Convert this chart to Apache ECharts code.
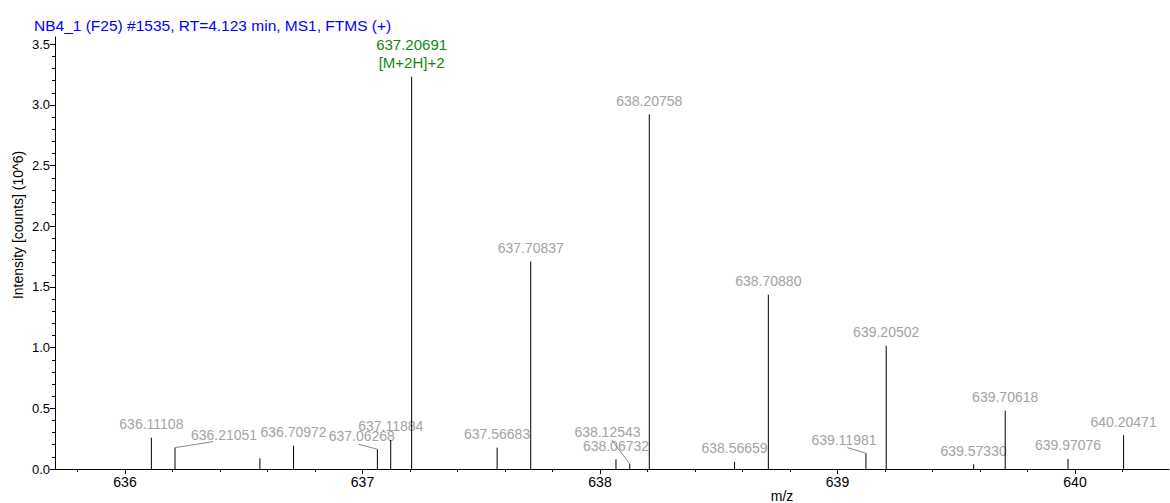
<!DOCTYPE html>
<html><head><meta charset="utf-8">
<script src="https://cdn.jsdelivr.net/npm/echarts@6/dist/echarts.min.js"></script>
<style>html,body{margin:0;padding:0;background:#fff}#c{width:1170px;height:503px}</style>
</head><body><div id="c"></div>
<script>
// ---- data ----
const titleText = 'NB4_1 (F25) #1535, RT=4.123 min, MS1, FTMS (+)';
const xAxisName = 'm/z';
const yAxisName = 'Intensity [counts] (10^6)';
const mzValues = [636.11108, 636.21051, 636.568, 636.70972, 637.06268, 637.11884, 637.20691, 637.56683, 637.70837, 638.06732,
                  638.12543, 638.20758, 638.56659, 638.70880, 639.11981, 639.20502, 639.57330, 639.70618, 639.97076, 640.20471];
const intensities = [0.258, 0.176, 0.088, 0.192, 0.163, 0.239, 3.233, 0.176, 1.711, 0.080,
                     0.041, 2.922, 0.058, 1.436, 0.130, 1.015, 0.039, 0.481, 0.083, 0.278];
const peakLabels = ['636.11108', '636.21051', '', '636.70972', '637.06268', '637.11884', '637.20691', '637.56683', '637.70837', '638.06732',
                    '638.12543', '638.20758', '638.56659', '638.70880', '639.11981', '639.20502', '639.57330', '639.70618', '639.97076', '640.20471'];
const annotations = ['', '', '', '', '', '', '[M+2H]+2', '', '', '', '', '', '', '', '', '', '', '', '', ''];
const xTicks = [636, 637, 638, 639, 640];
const yTicks = [0, 0.5, 1.0, 1.5, 2.0, 2.5, 3.0, 3.5];

// ---- style / layout (pixel offsets of displaced labels, relative to peak top) ----
const FONT = '"Liberation Sans", Arial, sans-serif';
const labelMoves = {
  1:  { label: [49, -12.7], leader: [38, -6] },
  4:  { label: [-15.6, -13.3], leader: [-19, -5] },
  10: { label: [-22.3, -32.3], leader: [-18, -24] },
  14: { label: [-22, -13.3], leader: [-18.7, -5.6] }
};

const seriesData = mzValues.map((m, i) => [m, intensities[i], i]);

const chart = echarts.init(document.getElementById('c'), null, { renderer: 'svg' });
chart.setOption({
  animation: false,
  backgroundColor: '#fff',
  title: {
    text: titleText, left: 29, top: 12,
    textStyle: { color: '#0000ff', fontSize: 15.5, fontWeight: 'normal', fontFamily: FONT }
  },
  grid: { left: 55, right: 1, top: 37, bottom: 34, containLabel: false },
  xAxis: {
    type: 'value', min: 635.7053, max: 640.3958,
    axisLine: { show: true, onZero: false, lineStyle: { color: '#000', width: 1 } },
    axisTick: { show: true, customValues: xTicks, length: 5, lineStyle: { color: '#000' } },
    minorTick: { show: true, splitNumber: 5, length: 3, lineStyle: { color: '#000' } },
    axisLabel: { customValues: xTicks, color: '#000', fontSize: 14, fontFamily: FONT, margin: 6 },
    splitLine: { show: false }
  },
  yAxis: {
    type: 'value', min: 0, max: 3.56, interval: 0.5,
    axisLine: { show: true, lineStyle: { color: '#000', width: 1 } },
    axisTick: { show: true, customValues: yTicks, length: 5, lineStyle: { color: '#000' } },
    minorTick: { show: true, splitNumber: 5, length: 3, lineStyle: { color: '#000' } },
    axisLabel: { customValues: yTicks, color: '#000', fontSize: 13, fontFamily: FONT, margin: 5,
                 formatter: v => Number(v).toFixed(1) },
    splitLine: { show: false }
  },
  graphic: [
    { type: 'text', x: 782, y: 496, style: { text: xAxisName, fill: '#000', font: '14px ' + FONT, align: 'center', verticalAlign: 'middle' } },
    { type: 'text', x: 18, y: 225, rotation: Math.PI / 2, style: { text: yAxisName, fill: '#000', font: '14px ' + FONT, align: 'center', verticalAlign: 'middle' } }
  ],
  series: [{
    type: 'custom',
    clip: false,
    dimensions: ['mz', 'intensity', 'idx'],
    encode: { x: 0, y: 1 },
    data: seriesData,
    renderItem: function (params, api) {
      const mz = api.value(0), v = api.value(1), i = api.value(2);
      const base = api.coord([mz, 0]);
      const top = api.coord([mz, v]);
      const children = [{
        type: 'line',
        shape: { x1: base[0], y1: base[1], x2: top[0], y2: top[1] },
        style: { stroke: '#000', lineWidth: 1 }
      }];
      const txt = peakLabels[i];
      const ann = annotations[i];
      if (txt) {
        if (ann) {
          children.push({ type: 'text', style: { text: txt, x: top[0], y: top[1] - 32, fill: '#118811', font: '15px ' + FONT, align: 'center', verticalAlign: 'middle' } });
          children.push({ type: 'text', style: { text: ann, x: top[0], y: top[1] - 14, fill: '#118811', font: '15px ' + FONT, align: 'center', verticalAlign: 'middle' } });
        } else {
          const mv = labelMoves[i];
          const off = mv ? mv.label : [0, -13.5];
          if (mv) {
            children.push({ type: 'line', shape: { x1: top[0], y1: top[1], x2: top[0] + mv.leader[0], y2: top[1] + mv.leader[1] },
                            style: { stroke: '#8a8a8a', lineWidth: 1 } });
          }
          children.push({ type: 'text', style: { text: txt, x: top[0] + off[0], y: top[1] + off[1], fill: '#a3a3a3', font: '14px ' + FONT, align: 'center', verticalAlign: 'middle' } });
        }
      }
      return { type: 'group', children: children };
    }
  }]
});
</script>
</body></html>
